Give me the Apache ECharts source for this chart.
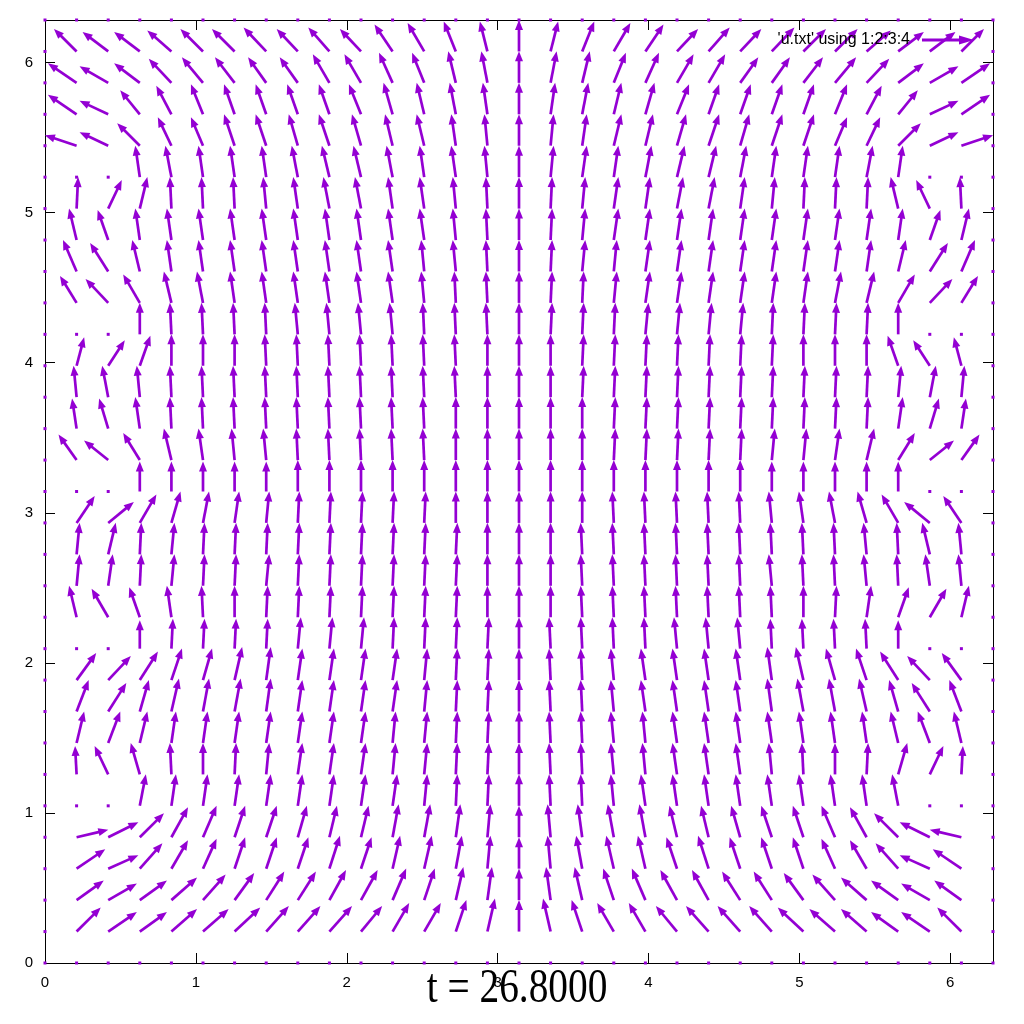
<!DOCTYPE html>
<html>
<head>
<meta charset="utf-8">
<script src="https://cdn.jsdelivr.net/npm/echarts@6/dist/echarts.min.js"></script>
<style>html,body{margin:0;padding:0;background:#fff}#c{width:1024px;height:1024px}</style>
</head>
<body>
<div id="c"></div>
<script>
// grid coordinates (x and y), 0 .. 2*pi in 30 steps
const GRID = [0,0.2094,0.4189,0.6283,0.8378,1.0472,1.2566,1.4661,1.6755,1.885,2.0944,2.3038,2.5133,2.7227,2.9322,3.1416,3.351,3.5605,3.7699,3.9794,4.1888,4.3982,4.6077,4.8171,5.0265,5.236,5.4454,5.6549,5.8643,6.0737,6.2832];
const TICKS = [0,1,2,3,4,5,6];
const TITLE = 't = 26.8000';
const LEGEND = "'u.txt' using 1:2:3:4";

// U[j][i]: x component of the vector at (GRID[i], GRID[j])
const U = [
[0, 0,0,0,0,0,0,0, 0,0,0,0,0,0,0, 0, 0,0,0,0,0,0,0, 0,0,0,0,0,0,0, 0],
[0, .16,.19,.18,.17,.17,.17,.15, .15,.15,.14,.11,.11,.07,.05, 0, -.05,-.07,-.11,-.11,-.14,-.15,-.15, -.15,-.17,-.17,-.17,-.18,-.19,-.16, 0],
[0, .18,.19,.18,.17,.15,.13,.12, .12,.11,.11,.09,.07,.05,.03, 0, -.03,-.05,-.07,-.09,-.11,-.11,-.12, -.12,-.13,-.15,-.17,-.18,-.19,-.18, 0],
[0, .19,.2,.15,.11,.09,.07,.07, .07,.07,.07,.05,.05,.04,.02, 0, -.02,-.04,-.05,-.05,-.07,-.07,-.07, -.07,-.07,-.09,-.11,-.15,-.2,-.19, 0],
[0, .21,.2,.16,.11,.09,.07,.07, .06,.05,.05,.04,.04,.03,.02, 0, -.02,-.03,-.04,-.04,-.05,-.05,-.06, -.07,-.07,-.09,-.11,-.16,-.2,-.21, 0],
[0, 0,0,.04,.03,.03,.03,.03, .03,.03,.03,.03,.02,.01,.01, 0, -.01,-.01,-.02,-.03,-.03,-.03,-.03, -.03,-.03,-.03,-.03,-.04,0,0, 0],
[0, -.01,-.09,-.06,-.01,0,.01,.02, .03,.03,.03,.02,.02,.01,.01, 0, -.01,-.01,-.02,-.02,-.03,-.03,-.03, -.02,-.01,0,.01,.06,.09,.01, 0],
[0, .05,.08,.05,.03,.03,.03,.03, .03,.03,.03,.02,.02,.01,.01, 0, -.01,-.01,-.02,-.02,-.03,-.03,-.03, -.03,-.03,-.03,-.03,-.05,-.08,-.05, 0],
[0, .08,.12,.06,.05,.04,.04,.03, .03,.03,.03,.03,.02,.01,.01, 0, -.01,-.01,-.02,-.03,-.03,-.03,-.03, -.03,-.04,-.04,-.05,-.06,-.12,-.08, 0],
[0, .13,.15,.12,.07,.06,.05,.03, .03,.03,.03,.03,.02,.01,.01, 0, -.01,-.01,-.02,-.03,-.03,-.03,-.03, -.03,-.05,-.06,-.07,-.12,-.15,-.13, 0],
[0, 0,0,0,.01,.01,.01,.01, .02,.02,.02,.01,.01,.01,.01, 0, -.01,-.01,-.01,-.01,-.02,-.02,-.02, -.01,-.01,-.01,-.01,0,0,0, 0],
[0, -.05,-.11,-.07,-.03,-.01,0,.01, .01,.01,.01,.01,.01,.01,0, 0, 0,-.01,-.01,-.01,-.01,-.01,-.01, -.01,0,.01,.03,.07,.11,.05, 0],
[0, .02,.03,.01,.02,.01,.01,.02, .01,.01,.01,.01,.01,.01,0, 0, 0,-.01,-.01,-.01,-.01,-.01,-.01, -.02,-.01,-.01,-.02,-.01,-.03,-.02, 0],
[0, .02,.05,.01,.02,.01,.01,.01, .01,.01,.01,.01,.01,.01,0, 0, 0,-.01,-.01,-.01,-.01,-.01,-.01, -.01,-.01,-.01,-.02,-.01,-.05,-.02, 0],
[0, .12,.17,.11,.06,.04,.03,.02, .01,.01,.01,.01,.01,0,0, 0, 0,0,-.01,-.01,-.01,-.01,-.01, -.02,-.03,-.04,-.06,-.11,-.17,-.12, 0],
[0, 0,0,0,0,0,0,0, 0,0,0,0,0,0,0, 0, 0,0,0,0,0,0,0, 0,0,0,0,0,0,0, 0],
[0, -.12,-.16,-.11,-.05,-.03,-.02,-.02, -.01,-.01,-.01,-.01,-.01,0,0, 0, 0,0,.01,.01,.01,.01,.01, .02,.02,.03,.05,.11,.16,.12, 0],
[0, -.03,-.06,-.03,-.01,-.01,-.01,-.01, -.01,-.01,-.01,-.01,-.01,0,0, 0, 0,0,.01,.01,.01,.01,.01, .01,.01,.01,.01,.03,.06,.03, 0],
[0, -.02,-.04,-.02,-.01,-.01,-.01,-.01, -.01,-.01,-.01,-.01,-.01,-.01,0, 0, 0,.01,.01,.01,.01,.01,.01, .01,.01,.01,.01,.02,.04,.02, 0],
[0, .05,.11,.07,0,0,0,-.01, -.01,-.01,-.01,-.01,-.01,-.01,0, 0, 0,.01,.01,.01,.01,.01,.01, .01,0,0,0,-.07,-.11,-.05, 0],
[0, 0,0,0,-.01,-.01,-.01,-.01, -.02,-.02,-.02,-.02,-.01,-.01,-.01, 0, .01,.01,.01,.02,.02,.02,.02, .01,.01,.01,.01,0,0,0, 0],
[0, -.11,-.15,-.11,-.05,-.04,-.03,-.03, -.03,-.03,-.03,-.03,-.02,-.01,-.01, 0, .01,.01,.02,.03,.03,.03,.03, .03,.03,.04,.05,.11,.15,.11, 0],
[0, -.09,-.12,-.05,-.03,-.03,-.03,-.03, -.03,-.03,-.03,-.03,-.02,-.02,-.01, 0, .01,.02,.02,.03,.03,.03,.03, .03,.03,.03,.03,.05,.12,.09, 0],
[0, -.05,-.07,-.03,-.03,-.03,-.03,-.03, -.03,-.03,-.03,-.03,-.03,-.02,-.01, 0, .01,.02,.03,.03,.03,.03,.03, .03,.03,.03,.03,.03,.07,.05, 0],
[0, .01,.09,.05,-.01,-.01,-.01,-.02, -.03,-.04,-.04,-.03,-.03,-.02,-.01, 0, .01,.02,.03,.03,.04,.04,.03, .02,.01,.01,.01,-.05,-.09,-.01, 0],
[0, 0,0,-.03,-.04,-.03,-.03,-.03, -.04,-.05,-.05,-.04,-.03,-.03,-.02, 0, .02,.03,.03,.04,.05,.05,.04, .03,.03,.03,.04,.03,0,0, 0],
[0, -.21,-.19,-.15,-.09,-.08,-.07,-.07, -.06,-.07,-.06,-.05,-.05,-.03,-.02, 0, .02,.03,.05,.05,.06,.07,.06, .07,.07,.08,.09,.15,.19,.21, 0],
[0, -.19,-.19,-.13,-.1,-.08,-.07,-.07, -.07,-.07,-.08,-.06,-.05,-.04,-.03, 0, .03,.04,.05,.06,.08,.07,.07, .07,.07,.08,.1,.13,.19,.19, 0],
[0, -.19,-.19,-.17,-.15,-.14,-.13,-.12, -.12,-.11,-.11,-.09,-.08,-.05,-.04, 0, .04,.05,.08,.09,.11,.11,.12, .12,.13,.14,.15,.17,.19,.19, 0],
[0, -.15,-.17,-.17,-.16,-.15,-.15,-.15, -.14,-.14,-.14,-.12,-.11,-.08,-.05, 0, .05,.08,.11,.12,.14,.14,.14, .15,.15,.15,.16,.17,.17,.15, 0],
[0, 0,0,0,0,0,0,0, 0,0,0,0,0,0,0, 0, 0,0,0,0,0,0,0, 0,0,0,0,0,0,0, 0]
];

// V[j][i]: y component of the vector at (GRID[i], GRID[j])
const V = [
[0, 0,0,0,0,0,0,0, 0,0,0,0,0,0,0, 0, 0,0,0,0,0,0,0, 0,0,0,0,0,0,0, 0],
[0, .16,.13,.13,.15,.15,.16,.17, .17,.17,.17,.19,.19,.21,.22, .21, .22,.21,.19,.19,.17,.17,.17, .17,.16,.15,.15,.13,.13,.16, 0],
[0, .13,.11,.13,.15,.17,.18,.19, .19,.2,.2,.21,.21,.22,.22, .21, .22,.22,.21,.21,.2,.2,.19, .19,.18,.17,.15,.13,.11,.13, 0],
[0, .13,.09,.17,.19,.2,.21,.21, .21,.22,.21,.22,.22,.22,.22, .21, .22,.22,.22,.22,.21,.22,.21, .21,.21,.2,.19,.17,.09,.13, 0],
[0, .05,.1,.16,.2,.21,.21,.21, .21,.21,.21,.22,.22,.22,.22, .21, .22,.22,.22,.22,.21,.21,.21, .21,.21,.21,.2,.16,.1,.05, 0],
[0, 0,0,.21,.21,.21,.21,.21, .21,.21,.21,.21,.21,.21,.21, .21, .21,.21,.21,.21,.21,.21,.21, .21,.21,.21,.21,.21,0,0, 0],
[0, .19,.19,.21,.21,.21,.21,.21, .21,.21,.21,.21,.21,.21,.21, .21, .21,.21,.21,.21,.21,.21,.21, .21,.21,.21,.21,.21,.19,.19, 0],
[0, .21,.21,.21,.21,.21,.21,.21, .21,.21,.21,.21,.21,.21,.21, .21, .21,.21,.21,.21,.21,.21,.21, .21,.21,.21,.21,.21,.21,.21, 0],
[0, .21,.19,.21,.22,.22,.22,.22, .21,.21,.21,.21,.21,.21,.21, .21, .21,.21,.21,.21,.21,.21,.21, .22,.22,.22,.22,.21,.19,.21, 0],
[0, .18,.16,.19,.21,.21,.22,.22, .21,.21,.21,.21,.21,.21,.21, .21, .21,.21,.21,.21,.21,.21,.21, .22,.22,.21,.21,.19,.16,.18, 0],
[0, 0,0,.19,.2,.2,.2,.2, .21,.21,.21,.21,.21,.21,.21, .21, .21,.21,.21,.21,.21,.21,.21, .2,.2,.2,.2,.19,0,0, 0],
[0, .21,.19,.2,.21,.21,.21,.21, .21,.21,.21,.21,.21,.21,.21, .21, .21,.21,.21,.21,.21,.21,.21, .21,.21,.21,.21,.2,.19,.21, 0],
[0, .21,.21,.21,.21,.21,.21,.21, .21,.21,.21,.21,.21,.21,.21, .21, .21,.21,.21,.21,.21,.21,.21, .21,.21,.21,.21,.21,.21,.21, 0],
[0, .21,.21,.21,.21,.21,.21,.21, .21,.21,.21,.21,.21,.21,.21, .21, .21,.21,.21,.21,.21,.21,.21, .21,.21,.21,.21,.21,.21,.21, 0],
[0, .18,.14,.19,.21,.21,.21,.21, .21,.21,.21,.21,.21,.21,.21, .21, .21,.21,.21,.21,.21,.21,.21, .21,.21,.21,.21,.19,.14,.18, 0],
[0, 0,0,.2,.2,.2,.2,.2, .21,.21,.21,.21,.21,.21,.21, .21, .21,.21,.21,.21,.21,.21,.21, .2,.2,.2,.2,.2,0,0, 0],
[0, .17,.13,.18,.21,.21,.21,.21, .21,.21,.21,.21,.21,.21,.21, .21, .21,.21,.21,.21,.21,.21,.21, .21,.21,.21,.21,.18,.13,.17, 0],
[0, .2,.2,.21,.21,.21,.21,.21, .21,.21,.21,.21,.21,.21,.21, .21, .21,.21,.21,.21,.21,.21,.21, .21,.21,.21,.21,.21,.2,.2, 0],
[0, .21,.21,.21,.21,.21,.21,.21, .21,.21,.21,.21,.21,.21,.21, .21, .21,.21,.21,.21,.21,.21,.21, .21,.21,.21,.21,.21,.21,.21, 0],
[0, .19,.17,.2,.21,.21,.21,.21, .21,.21,.21,.21,.21,.21,.21, .21, .21,.21,.21,.21,.21,.21,.21, .21,.21,.21,.21,.2,.17,.19, 0],
[0, 0,0,.21,.21,.21,.21,.21, .21,.21,.21,.21,.21,.21,.21, .21, .21,.21,.21,.21,.21,.21,.21, .21,.21,.21,.21,.21,0,0, 0],
[0, .18,.16,.19,.21,.21,.21,.21, .21,.21,.21,.21,.21,.21,.21, .21, .21,.21,.21,.21,.21,.21,.21, .21,.21,.21,.21,.19,.16,.18, 0],
[0, .21,.19,.21,.21,.21,.21,.21, .21,.21,.21,.21,.21,.21,.21, .21, .21,.21,.21,.21,.21,.21,.21, .21,.21,.21,.21,.21,.19,.21, 0],
[0, .21,.2,.21,.21,.21,.21,.21, .21,.21,.21,.21,.21,.21,.21, .21, .21,.21,.21,.21,.21,.21,.21, .21,.21,.21,.21,.21,.2,.21, 0],
[0, .21,.19,.21,.21,.21,.21,.21, .21,.21,.21,.21,.21,.21,.21, .21, .21,.21,.21,.21,.21,.21,.21, .21,.21,.21,.21,.21,.19,.21, 0],
[0, 0,0,.21,.21,.21,.21,.21, .21,.21,.21,.21,.21,.21,.21, .21, .21,.21,.21,.21,.21,.21,.21, .21,.21,.21,.21,.21,0,0, 0],
[0, .07,.09,.15,.19,.19,.21,.21, .21,.21,.21,.21,.21,.21,.21, .21, .21,.21,.21,.21,.21,.21,.21, .21,.21,.19,.19,.15,.09,.07, 0],
[0, .13,.09,.16,.19,.2,.2,.2, .2,.2,.2,.21,.21,.21,.21, .21, .21,.21,.21,.21,.2,.2,.2, .2,.2,.2,.19,.16,.09,.13, 0],
[0, .13,.11,.13,.16,.17,.17,.17, .17,.19,.19,.2,.2,.21,.21, .21, .21,.21,.2,.2,.19,.19,.17, .17,.17,.17,.16,.13,.11,.13, 0],
[0, .15,.13,.13,.14,.15,.15,.16, .15,.16,.15,.18,.19,.2,.2, .21, .2,.2,.19,.18,.15,.16,.15, .16,.15,.15,.14,.13,.13,.15, 0],
[0, 0,0,0,0,0,0,0, 0,0,0,0,0,0,0, 0, 0,0,0,0,0,0,0, 0,0,0,0,0,0,0, 0]
];

const COLOR = '#9400d3';
const data = [];
for (let j = 0; j < GRID.length; j++) {
  for (let i = 0; i < GRID.length; i++) {
    data.push([GRID[i], GRID[j], U[j][i] || 0, V[j][i] || 0]);
  }
}

function renderArrow(params, api) {
  const x = api.value(0), y = api.value(1), u = api.value(2), v = api.value(3);
  const p0 = api.coord([x, y]);
  if (u === 0 && v === 0) {
    return { type: 'rect', shape: { x: p0[0] - 1.5, y: p0[1] - 1.5, width: 3, height: 3 }, style: { fill: COLOR } };
  }
  const p1 = api.coord([x + u, y + v]);
  const dx = p1[0] - p0[0], dy = p1[1] - p0[1];
  const len = Math.hypot(dx, dy);
  const ux = dx / len, uy = dy / len;
  const L = Math.min(10, len * 0.6), w = 4;
  const bx = p1[0] - ux * L, by = p1[1] - uy * L;
  const nx = -uy, ny = ux;
  return {
    type: 'group',
    children: [
      { type: 'line', shape: { x1: p0[0], y1: p0[1], x2: bx + ux, y2: by + uy }, style: { stroke: COLOR, lineWidth: 2.7 } },
      { type: 'polygon', shape: { points: [[p1[0], p1[1]], [bx + nx * w, by + ny * w], [bx - nx * w, by - ny * w]] }, style: { fill: COLOR } }
    ]
  };
}

const intLabel = v => (Math.abs(v - Math.round(v)) < 1e-6 && TICKS.indexOf(Math.round(v)) >= 0) ? String(Math.round(v)) : '';
const axisCommon = {
  type: 'value', min: GRID[0], max: GRID[GRID.length - 1], interval: 1,
  axisLine: { show: true, onZero: false, lineStyle: { color: '#000', width: 1 } },
  axisTick: { show: true, inside: true, length: 10, lineStyle: { color: '#000', width: 1 } },
  splitLine: { show: false }
};

const chart = echarts.init(document.getElementById('c'), null, { renderer: 'canvas' });
chart.setOption({
  animation: false,
  backgroundColor: '#fff',
  grid: { left: 45, right: 31, top: 20, bottom: 61, containLabel: false },
  xAxis: [
    Object.assign({}, axisCommon, { position: 'bottom', axisLabel: { show: true, formatter: intLabel, color: '#000', fontSize: 15, fontFamily: 'Liberation Sans', margin: 12, showMaxLabel: false } }),
    Object.assign({}, axisCommon, { position: 'top', axisLabel: { show: false } })
  ],
  yAxis: [
    Object.assign({}, axisCommon, { position: 'left', axisLabel: { show: true, formatter: intLabel, color: '#000', fontSize: 15, fontFamily: 'Liberation Sans', margin: 12, showMaxLabel: false } }),
    Object.assign({}, axisCommon, { position: 'right', axisLabel: { show: false } })
  ],
  series: [{
    type: 'custom', coordinateSystem: 'cartesian2d', xAxisIndex: 0, yAxisIndex: 0,
    clip: false, renderItem: renderArrow, data: data, silent: true
  }],
  graphic: [
    { type: 'text', x: 910, y: 40, z: 100, style: { text: LEGEND, font: '16px "Liberation Sans"', fill: '#000', textAlign: 'right', textVerticalAlign: 'middle' } },
    { type: 'line', z: 100, shape: { x1: 922, y1: 40, x2: 960, y2: 40 }, style: { stroke: COLOR, lineWidth: 3 } },
    { type: 'polygon', z: 100, shape: { points: [[974, 40], [959, 35.5], [959, 44.5]] }, style: { fill: COLOR } },
    { type: 'text', x: 517, y: 1013, z: 100, scaleX: 0.82, style: { text: TITLE, font: '48px "Liberation Serif"', fill: '#000', textAlign: 'center', textVerticalAlign: 'bottom' } }
  ]
});
</script>
</body>
</html>
